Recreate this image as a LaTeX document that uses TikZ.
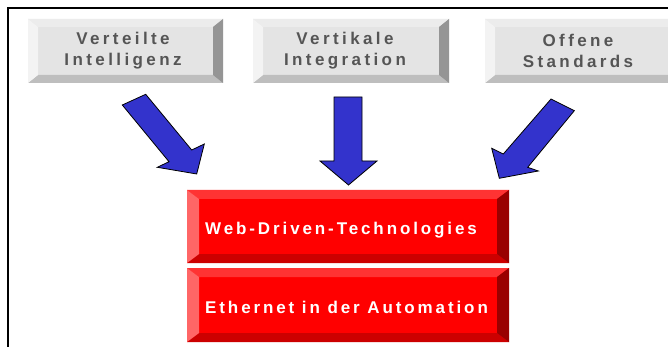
\documentclass[tikz,border=0pt]{standalone}
\usepackage{fontspec}
\setmainfont{Liberation Sans}
\newfontfamily\spacedfont[LetterSpace=20]{Liberation Sans}
\newfontfamily\spacedredfont[LetterSpace=17]{Liberation Sans}

\definecolor{greyface}{HTML}{E4E4E4}
\definecolor{greytop}{HTML}{ECECEC}
\definecolor{greyleft}{HTML}{F3F3F3}
\definecolor{greyright}{HTML}{959595}
\definecolor{greybot}{HTML}{BEBEBE}
\definecolor{redface}{HTML}{FF0000}
\definecolor{redtop}{HTML}{FF3333}
\definecolor{redleft}{HTML}{FF6666}
\definecolor{redright}{HTML}{990000}
\definecolor{redbot}{HTML}{CC0000}
\definecolor{greytext}{HTML}{555555}
\definecolor{arrowblue}{HTML}{3333CC}

% beveled button: corners (#1,#2)-(#3,#4), bevel widths #5 (sides) and #6 (top/bottom), colour set #7
\newcommand\bevbox[7]{%
  \fill[#7face]  (#1,#2) rectangle (#3,#4);
  \fill[#7top]   (#1,#2) -- (#3,#2) -- (#3-#5,#2+#6) -- (#1+#5,#2+#6) -- cycle;
  \fill[#7bot]   (#1,#4) -- (#3,#4) -- (#3-#5,#4-#6) -- (#1+#5,#4-#6) -- cycle;
  \fill[#7left]  (#1,#2) -- (#1+#5,#2+#6) -- (#1+#5,#4-#6) -- (#1,#4) -- cycle;
  \fill[#7right] (#3,#2) -- (#3-#5,#2+#6) -- (#3-#5,#4-#6) -- (#3,#4) -- cycle;
}

\tikzset{
  greylabel/.style={align=center, text=greytext, inner sep=0pt,
    font=\spacedfont\bfseries\fontsize{17}{21}\selectfont},
  redlabel/.style={anchor=base west, text=white, inner sep=0pt,
    font=\spacedredfont\bfseries\fontsize{17}{20}\selectfont},
  blockarrow/.style={fill=arrowblue, draw=black, line width=0.8pt, line join=miter},
  frameline/.style={draw=black, line width=1.5pt}
}

\begin{document}
\begin{tikzpicture}[x=1pt, y=-1pt]
  \useasboundingbox (0,0) rectangle (668,347);
  \fill[white] (0,0) rectangle (668,347);

  % outer frame (top and left edges)
  \draw[frameline] (8,360) -- (8,8) -- (680,8);

  % grey buttons
  \bevbox{28}{19}{223}{83}{10}{8}{grey}
  \bevbox{253}{19}{449}{83}{10}{8}{grey}
  \bevbox{485}{19}{681}{83}{10}{8}{grey}
  \node[greylabel] (verteilt) at (123,51) {Verteilte\\Intelligenz};
  \node[greylabel] (vertikal) at (345,51) {Vertikale\\Integration};
  \node[greylabel] (offen)    at (578,51) {Offene\\Standards};

  % red buttons
  \bevbox{187}{190}{509}{263}{12}{9}{red}
  \bevbox{187}{268}{509}{342}{12}{9}{red}
  \node[redlabel] (web) at (205,234) {Web-Driven-Technologies};
  \node[redlabel] (eth) at (205,313) {Ethernet in der Automation};

  % block arrows
  \draw[blockarrow] (122.3,105) -- (145.7,94.3) -- (191.7,150) -- (204.3,144)
    -- (196.7,174) -- (157.3,167.3) -- (169,161.7) -- cycle;
  \draw[blockarrow] (334,97) -- (362,97) -- (362,161) -- (377,161)
    -- (348.5,185) -- (320,161) -- (334,161) -- cycle;
  \draw[blockarrow] (551,99) -- (574.3,110.7) -- (527.7,167.3) -- (538.3,171)
    -- (499.3,178.3) -- (491.7,148.3) -- (503.3,154) -- cycle;
\end{tikzpicture}
\end{document}
